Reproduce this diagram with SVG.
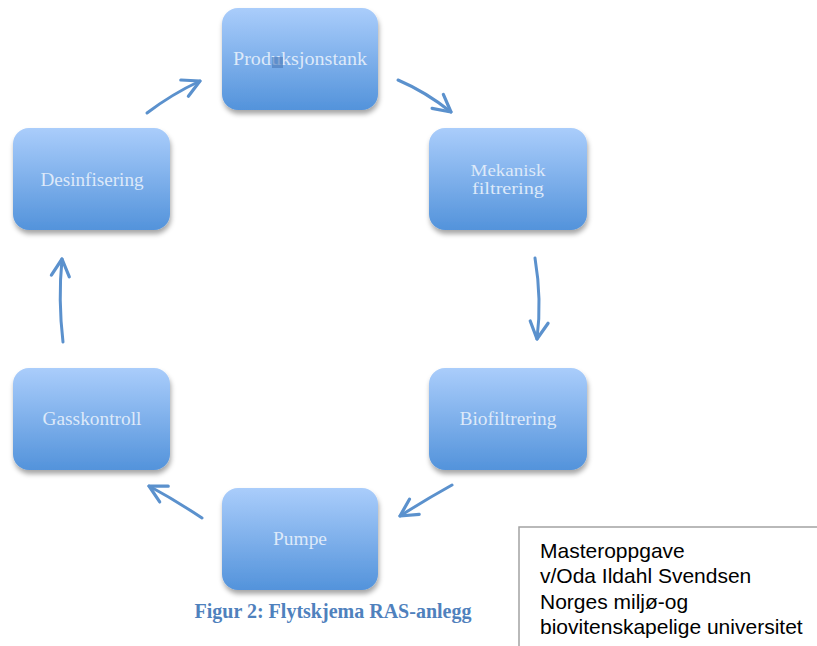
<svg xmlns="http://www.w3.org/2000/svg" width="817" height="646" viewBox="0 0 817 646">
<defs>
<linearGradient id="g" x1="0" y1="0" x2="0" y2="1">
<stop offset="0" stop-color="#aacdfb"/>
<stop offset="1" stop-color="#5393db"/>
</linearGradient>
<filter id="sh" x="-10%" y="-10%" width="125%" height="130%">
<feDropShadow dx="1" dy="4" stdDeviation="2.5" flood-color="#000" flood-opacity="0.35"/>
</filter>
<marker id="ah" markerUnits="userSpaceOnUse" viewBox="-20 -12 24 24" refX="0" refY="0" markerWidth="24" markerHeight="24" orient="auto">
<path d="M-17,-9 L0,0 L-17,9" fill="none" stroke="#5b91cd" stroke-width="3.2" stroke-linecap="round" stroke-linejoin="round"/>
</marker>
<style>
.box{fill:url(#g);filter:url(#sh)}
.lbl{font-family:"Liberation Serif",serif;font-size:18px;fill:#dde9f9;text-anchor:middle}
.sm{font-size:16px}
.arr{fill:none;stroke:#5b91cd;stroke-width:3;stroke-linecap:round;marker-end:url(#ah)}
.note{font-family:"Liberation Sans",Arial,sans-serif;font-size:21px;fill:#000}
</style>
</defs>
<rect width="817" height="646" fill="#fff"/>
<g id="connectors">
<path class="arr" d="M147,113 Q172,94 200,81"/>
<path class="arr" d="M398,80 Q426,92 451,112"/>
<path class="arr" d="M535,258 Q542,300 537,339"/>
<path class="arr" d="M452,485 Q425,500 400,516"/>
<path class="arr" d="M202,518 Q175,500 149,486"/>
<path class="arr" d="M63,342 Q58,300 62,259"/>
</g>
<g id="produksjonstank">
<rect class="box" x="222" y="8" width="156" height="102" rx="16"/>
<text class="lbl" x="300" y="65" textLength="134" lengthAdjust="spacingAndGlyphs">Produksjonstank</text>
<rect x="272" y="57" width="11" height="11" fill="#4a78b8" opacity="0.6"/>
</g>
<g id="mekanisk">
<rect class="box" x="429" y="128" width="158" height="102" rx="16"/>
<text class="lbl sm" x="508" y="176" textLength="75" lengthAdjust="spacingAndGlyphs">Mekanisk</text>
<text class="lbl sm" x="508" y="194" textLength="72" lengthAdjust="spacingAndGlyphs">filtrering</text>
</g>
<g id="biofiltrering">
<rect class="box" x="429" y="368" width="158" height="102" rx="16"/>
<text class="lbl" x="508" y="425" textLength="97" lengthAdjust="spacingAndGlyphs">Biofiltrering</text>
</g>
<g id="pumpe">
<rect class="box" x="222" y="488" width="156" height="102" rx="16"/>
<text class="lbl" x="300" y="545" textLength="54" lengthAdjust="spacingAndGlyphs">Pumpe</text>
</g>
<g id="gasskontroll">
<rect class="box" x="13" y="368" width="157" height="102" rx="16"/>
<text class="lbl" x="92" y="425" textLength="99" lengthAdjust="spacingAndGlyphs">Gasskontroll</text>
</g>
<g id="desinfisering">
<rect class="box" x="13" y="128" width="157" height="102" rx="16"/>
<text class="lbl" x="92" y="186" textLength="103" lengthAdjust="spacingAndGlyphs">Desinfisering</text>
</g>
<g id="caption">
<text x="333" y="618" font-family="'Liberation Serif',serif" font-weight="bold" font-size="21" fill="#4f81bd" text-anchor="middle" textLength="277" lengthAdjust="spacingAndGlyphs">Figur 2: Flytskjema RAS-anlegg</text>
</g>
<g id="notebox">
<rect x="519" y="527" width="320" height="140" fill="#fff" stroke="#a3a3a3" stroke-width="1.5"/>
<text class="note" x="540" y="558">Masteroppgave</text>
<text class="note" x="540" y="583">v/Oda Ildahl Svendsen</text>
<text class="note" x="540" y="609">Norges miljø-og</text>
<text class="note" x="540" y="634">biovitenskapelige universitet</text>
</g>
</svg>
